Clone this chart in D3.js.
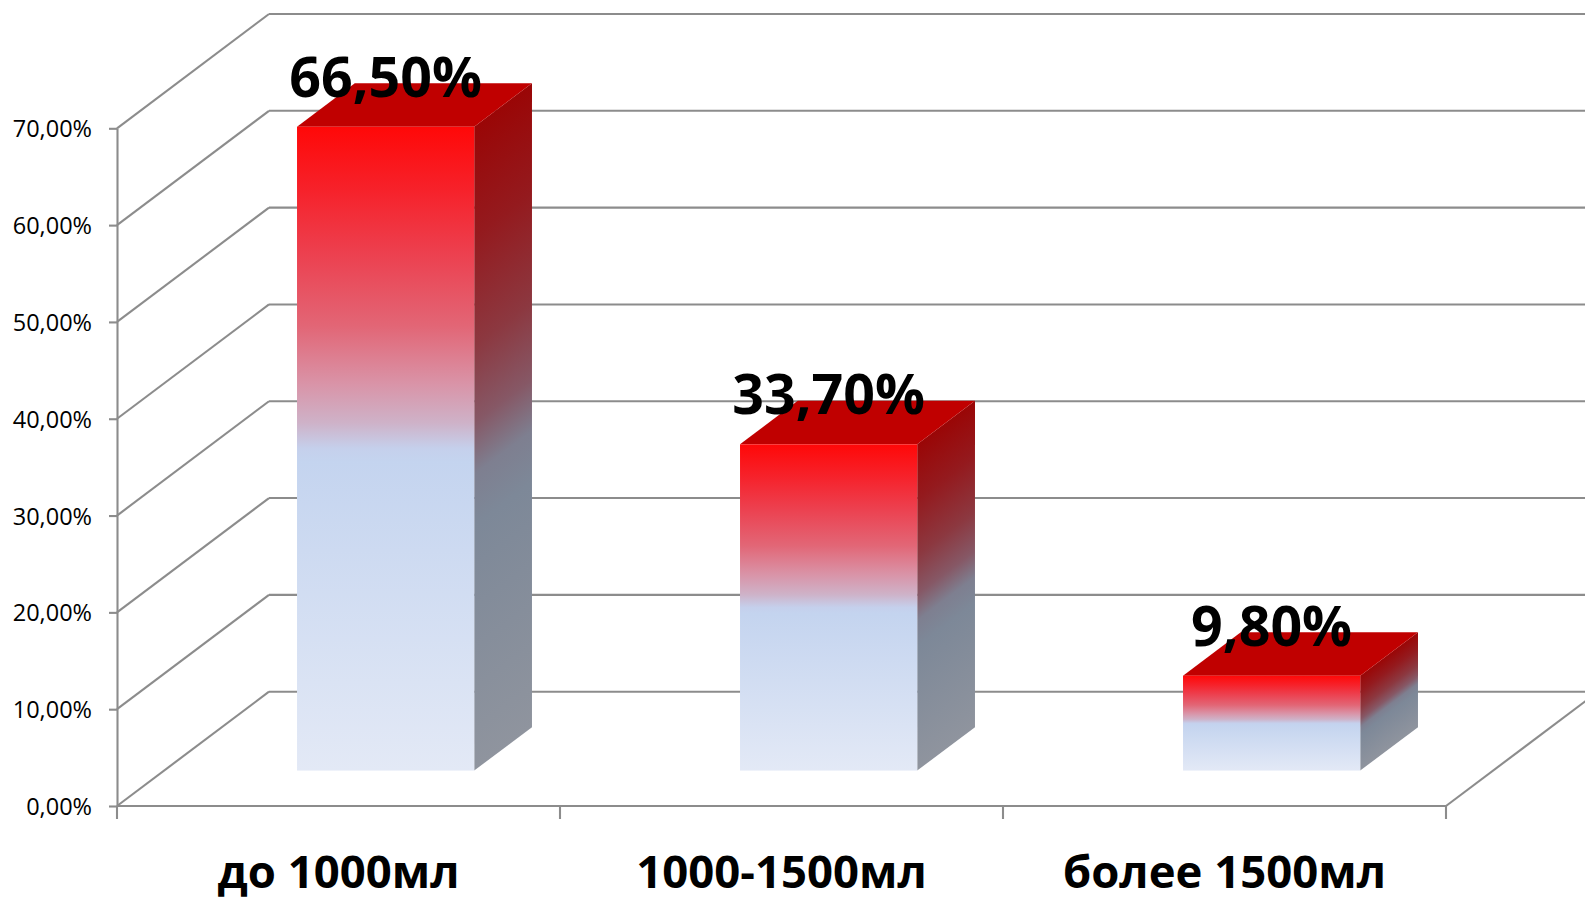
<!DOCTYPE html>
<html>
<head>
<meta charset="utf-8">
<script src="https://cdn.jsdelivr.net/npm/d3@7/dist/d3.min.js"></script>
<style>
  html, body { margin: 0; padding: 0; background: #ffffff; }
  svg { display: block; }
</style>
</head>
<body>
<svg id="chart" width="1585" height="900"></svg>
<script>
// Volume groups and their shares
const categories = ["до 1000мл", "1000-1500мл", "более 1500мл"];
const values = [0.665, 0.337, 0.098];
const valueLabels = ["66,50%", "33,70%", "9,80%"];

// Value axis ticks
const yTicks = [0, 0.1, 0.2, 0.3, 0.4, 0.5, 0.6, 0.7];
const yTickLabels = ["0,00%", "10,00%", "20,00%", "30,00%", "40,00%", "50,00%", "60,00%", "70,00%"];

const W = 1585, H = 900;
const svg = d3.select("#chart");

// Front plane of the 3D box, plus the oblique depth offset
const x = d3.scaleBand().domain(categories).range([117, 1446]).paddingInner(0).paddingOuter(0);
const y = d3.scaleLinear().domain([0, 0.7]).range([806, 128.3]);
const DX = 152, DY = -114.3;          // full depth of the floor/walls
const dFront = 0.31, dBack = 0.69;     // bar position inside the depth
const barFrac = 0.4;                   // bar width relative to band (gap width 150%)

const gridColor = "#8c8c8c";
const gridW = 2.1;

const grid = svg.append("g").attr("fill", "none").attr("stroke", gridColor).attr("stroke-width", gridW);

// Back-wall horizontal gridlines
grid.selectAll("line.back").data(yTicks).join("line")
  .attr("class", "back")
  .attr("x1", x.range()[0] + DX).attr("x2", x.range()[1] + DX + 20)
  .attr("y1", d => y(d) + DY).attr("y2", d => y(d) + DY);

// Side-wall oblique gridlines
grid.selectAll("line.side").data(yTicks).join("line")
  .attr("class", "side")
  .attr("x1", x.range()[0]).attr("x2", x.range()[0] + DX)
  .attr("y1", d => y(d)).attr("y2", d => y(d) + DY);

// Floor: front edge and right edge
grid.append("line")
  .attr("x1", x.range()[0]).attr("x2", x.range()[1])
  .attr("y1", y(0)).attr("y2", y(0));
grid.append("line")
  .attr("x1", x.range()[1]).attr("x2", x.range()[1] + DX)
  .attr("y1", y(0)).attr("y2", y(0) + DY);

// Category boundary ticks
const bounds = categories.map(c => x(c)).concat([x.range()[1]]);
grid.selectAll("line.ctick").data(bounds).join("line")
  .attr("class", "ctick")
  .attr("x1", d => d).attr("x2", d => d)
  .attr("y1", y(0)).attr("y2", y(0) + 13);

// Value axis with its tick labels
const yAxis = d3.axisLeft(y)
  .tickValues(yTicks)
  .tickFormat((d, i) => yTickLabels[i])
  .tickSize(8)
  .tickSizeOuter(0)
  .tickPadding(17);

const ag = svg.append("g").attr("transform", `translate(${x.range()[0]},0)`).call(yAxis);
ag.select(".domain").attr("stroke", gridColor).attr("stroke-width", gridW);
ag.selectAll(".tick line").attr("stroke", gridColor).attr("stroke-width", gridW);
ag.selectAll(".tick text")
  .attr("fill", "#000")
  .attr("font-family", "'Open Sans', 'Noto Sans', sans-serif")
  .attr("font-size", 23.5)
  .attr("dy", "0.36em");

// Gradients
const defs = svg.append("defs");

const frontStops = [
  [0, "#ff0808"], [0.10, "#f6222b"], [0.20, "#ec4150"], [0.31, "#e26676"],
  [0.40, "#d994a8"], [0.46, "#ceb2c8"], [0.50, "#c5d0ec"], [0.52, "#c4d4ef"],
  [1, "#e3e9f6"]
];
const sideStops = [
  [0, "#9a0606"], [0.17, "#941a1e"], [0.34, "#8c3840"], [0.46, "#865866"],
  [0.54, "#7e7f90"], [0.62, "#7d8898"], [1, "#8f949e"]
];

const fg = defs.append("linearGradient").attr("id", "frontGrad")
  .attr("x1", 0).attr("y1", 0).attr("x2", 0).attr("y2", 1);
fg.selectAll("stop").data(frontStops).join("stop")
  .attr("offset", d => d[0]).attr("stop-color", d => d[1]);

// Bars geometry
const bars = categories.map((c, i) => {
  const bw = x.bandwidth() * barFrac;
  const xl = x(c) + (x.bandwidth() - bw) / 2 + dFront * DX;
  const xr = xl + bw;
  const yt = y(values[i]) + dFront * DY;
  const yb = y(0) + dFront * DY;
  const ddx = (dBack - dFront) * DX, ddy = (dBack - dFront) * DY;
  return { c, i, xl, xr, yt, yb, ddx, ddy };
});

// Side face gradient runs perpendicular to the depth edges
const len = Math.hypot(DX, DY);
const ux = -DY / len, uy = DX / len;
bars.forEach(b => {
  const L = (b.yb - b.yt) * uy;
  const g = defs.append("linearGradient").attr("id", "sideGrad" + b.i)
    .attr("gradientUnits", "userSpaceOnUse")
    .attr("x1", b.xr).attr("y1", b.yt)
    .attr("x2", b.xr + L * ux).attr("y2", b.yt + L * uy);
  g.selectAll("stop").data(sideStops).join("stop")
    .attr("offset", d => d[0]).attr("stop-color", d => d[1]);
});

const barG = svg.append("g");
const bg = barG.selectAll("g.bar").data(bars).join("g").attr("class", "bar");

// Side face
bg.append("path")
  .attr("d", b => `M${b.xr},${b.yt} L${b.xr + b.ddx},${b.yt + b.ddy} L${b.xr + b.ddx},${b.yb + b.ddy} L${b.xr},${b.yb} Z`)
  .attr("fill", b => `url(#sideGrad${b.i})`);

// Top face
bg.append("path")
  .attr("d", b => `M${b.xl},${b.yt} L${b.xr},${b.yt} L${b.xr + b.ddx},${b.yt + b.ddy} L${b.xl + b.ddx},${b.yt + b.ddy} Z`)
  .attr("fill", "#c00000");

// Front face
bg.append("rect")
  .attr("x", b => b.xl).attr("y", b => b.yt)
  .attr("width", b => b.xr - b.xl).attr("height", b => b.yb - b.yt)
  .attr("fill", "url(#frontGrad)");

// Value labels
svg.append("g").selectAll("text").data(bars).join("text")
  .attr("x", b => (b.xl + b.xr) / 2)
  .attr("y", b => b.yt - 30)
  .attr("text-anchor", "middle")
  .attr("font-family", "'Open Sans', 'Noto Sans', sans-serif")
  .attr("font-weight", "bold")
  .attr("font-size", 55.5)
  .attr("fill", "#000")
  .text(b => valueLabels[b.i]);

// Category labels
svg.append("g").selectAll("text").data(categories).join("text")
  .attr("x", c => x(c) + x.bandwidth() / 2)
  .attr("y", 888)
  .attr("text-anchor", "middle")
  .attr("font-family", "'Open Sans', 'Noto Sans', sans-serif")
  .attr("font-weight", "bold")
  .attr("font-size", 45.5)
  .attr("fill", "#000")
  .text(c => c);
</script>
</body>
</html>
